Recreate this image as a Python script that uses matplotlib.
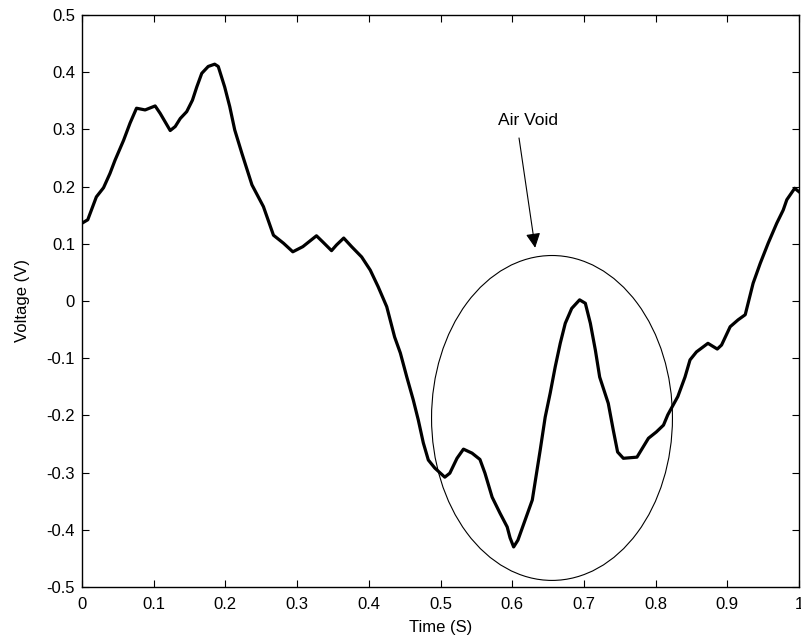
import matplotlib
matplotlib.use("Agg")
import matplotlib.pyplot as plt
from matplotlib.patches import Ellipse

plt.rcParams["font.family"] = ["Liberation Sans", "DejaVu Sans"]
plt.rcParams["axes.unicode_minus"] = False

# signal
time_s = [0.000, 0.008, 0.020, 0.030, 0.039, 0.046, 0.058, 0.067, 0.076, 0.088,
          0.102, 0.109, 0.123, 0.130, 0.137, 0.146, 0.154, 0.160, 0.167, 0.176,
          0.185, 0.190, 0.199, 0.206, 0.213, 0.223, 0.237, 0.253, 0.267, 0.281,
          0.294, 0.308, 0.327, 0.336, 0.348, 0.355, 0.365, 0.376, 0.390, 0.402,
          0.413, 0.425, 0.436, 0.444, 0.453, 0.462, 0.469, 0.476, 0.483, 0.492,
          0.506, 0.513, 0.523, 0.532, 0.544, 0.555, 0.562, 0.572, 0.583, 0.593,
          0.597, 0.602, 0.608, 0.618, 0.628, 0.639, 0.646, 0.653, 0.660, 0.667,
          0.674, 0.683, 0.694, 0.702, 0.709, 0.716, 0.722, 0.734, 0.741, 0.747,
          0.755, 0.774, 0.790, 0.801, 0.811, 0.817, 0.831, 0.841, 0.848, 0.857,
          0.873, 0.886, 0.892, 0.904, 0.915, 0.925, 0.936, 0.946, 0.957, 0.969,
          0.978, 0.983, 0.994, 1.000]
voltage = [0.136, 0.142, 0.182, 0.198, 0.223, 0.246, 0.281, 0.311, 0.337, 0.334,
           0.341, 0.328, 0.298, 0.305, 0.319, 0.331, 0.351, 0.374, 0.398, 0.410,
           0.414, 0.410, 0.374, 0.340, 0.299, 0.258, 0.203, 0.165, 0.115, 0.101,
           0.086, 0.095, 0.114, 0.103, 0.088, 0.098, 0.110, 0.095, 0.077, 0.054,
           0.025, -0.010, -0.063, -0.091, -0.133, -0.173, -0.208, -0.248, -0.278, -0.292,
           -0.308, -0.301, -0.275, -0.259, -0.266, -0.277, -0.301, -0.343, -0.371, -0.395,
           -0.414, -0.430, -0.418, -0.383, -0.348, -0.261, -0.203, -0.161, -0.115, -0.074,
           -0.039, -0.013, 0.002, -0.004, -0.039, -0.086, -0.133, -0.179, -0.226, -0.264,
           -0.275, -0.273, -0.240, -0.229, -0.217, -0.199, -0.167, -0.133, -0.103, -0.089,
           -0.074, -0.084, -0.077, -0.045, -0.033, -0.024, 0.031, 0.066, 0.101, 0.136,
           0.159, 0.177, 0.197, 0.191]

x_ticks = [0, 0.1, 0.2, 0.3, 0.4, 0.5, 0.6, 0.7, 0.8, 0.9, 1]
x_labels = ["0", "0.1", "0.2", "0.3", "0.4", "0.5", "0.6", "0.7", "0.8", "0.9", "1"]
y_ticks = [-0.5, -0.4, -0.3, -0.2, -0.1, 0, 0.1, 0.2, 0.3, 0.4, 0.5]
y_labels = ["-0.5", "-0.4", "-0.3", "-0.2", "-0.1", "0", "0.1", "0.2", "0.3", "0.4", "0.5"]

fig = plt.figure(figsize=(8.01, 6.43), dpi=100)
ax = fig.add_axes([0.1024, 0.0871, 0.8951, 0.8896])

ax.plot(time_s, voltage, color="black", linewidth=2.3)

# circled region with the arrow
ax.add_patch(Ellipse((0.6555, -0.2045), 0.336, 0.568, fill=False,
                     edgecolor="black", linewidth=0.8))
ax.annotate("", xy=(0.632, 0.093), xytext=(0.6095, 0.285),
            arrowprops=dict(arrowstyle="-|>", color="black", lw=0.8,
                            mutation_scale=22, shrinkA=0, shrinkB=0))
ax.text(0.622, 0.315, "Air Void", fontsize=12.5, ha="center", va="center")

ax.set_xlim(0, 1)
ax.set_ylim(-0.5, 0.5)
ax.set_xticks(x_ticks)
ax.set_xticklabels(x_labels)
ax.set_yticks(y_ticks)
ax.set_yticklabels(y_labels)
ax.tick_params(direction="in", top=True, right=True, length=5, width=0.8,
               labelsize=12)
ax.tick_params(axis="y", pad=5)
ax.tick_params(axis="x", pad=7)
for s in ax.spines.values():
    s.set_linewidth(1.0)

ax.set_xlabel("Time (S)", fontsize=12, labelpad=6)
ax.set_ylabel("Voltage (V)", fontsize=12, labelpad=12)

fig.savefig("out.png", dpi=100)
